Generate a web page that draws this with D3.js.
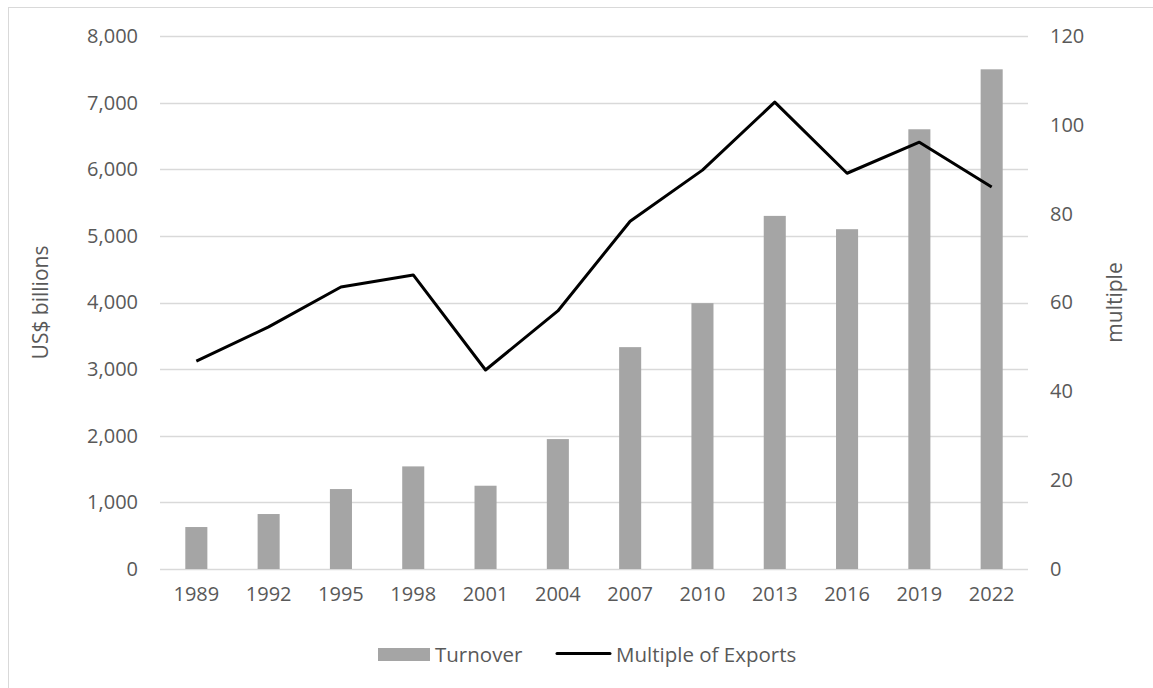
<!DOCTYPE html>
<html>
<head>
<meta charset="utf-8">
<script src="https://cdn.jsdelivr.net/npm/d3@7"></script>
<style>
  body { margin: 0; background: #fff; }
  svg text { font-family: "Open Sans", sans-serif; fill: #595959; }
</style>
</head>
<body>
<div id="chart-container"></div>
<script>
// data
const years = ['1989', '1992', '1995', '1998', '2001', '2004', '2007', '2010', '2013', '2016', '2019', '2022'];
const turnover = [630, 825, 1200, 1540, 1250, 1950, 3330, 3990, 5300, 5100, 6600, 7500];
const multiple = [46.8, 54.5, 63.5, 66.2, 44.8, 58.1, 78.3, 89.8, 105.1, 89.1, 96.1, 86.0];
const leftTicks = [0, 1000, 2000, 3000, 4000, 5000, 6000, 7000, 8000];
const rightTicks = [0, 20, 40, 60, 80, 100, 120];

const w = 1153;
const h = 688;
const plotLeft = 160, plotRight = 1028, plotTop = 36, plotBottom = 569;

const svg = d3.select('#chart-container')
    .append('svg')
    .attr('width', w)
    .attr('height', h);

// chart frame
svg.append('rect')
    .attr('x', 8.5).attr('y', 7.5)
    .attr('width', 1160).attr('height', 700)
    .attr('fill', 'none')
    .attr('stroke', '#d9d9d9');

const xScale = d3.scaleBand()
    .domain(years)
    .range([plotLeft, plotRight])
    .paddingInner(0.695)
    .paddingOuter(0.35);

const yLeft = d3.scaleLinear().domain([0, 8000]).range([plotBottom, plotTop]);
const yRight = d3.scaleLinear().domain([0, 120]).range([plotBottom, plotTop]);

// gridlines
svg.append('g')
    .selectAll('line')
    .data(leftTicks)
    .enter()
    .append('line')
    .attr('x1', plotLeft).attr('x2', plotRight)
    .attr('y1', d => Math.round(yLeft(d)) + 0.5)
    .attr('y2', d => Math.round(yLeft(d)) + 0.5)
    .attr('stroke', '#d9d9d9')
    .attr('stroke-width', 1.3);

// bars
svg.append('g')
    .selectAll('rect')
    .data(turnover)
    .enter()
    .append('rect')
    .attr('x', (d, i) => xScale(years[i]))
    .attr('y', d => yLeft(d))
    .attr('width', xScale.bandwidth())
    .attr('height', d => plotBottom - yLeft(d))
    .attr('fill', '#a5a5a5');

// line
const line = d3.line()
    .x((d, i) => xScale(years[i]) + xScale.bandwidth() / 2)
    .y(d => yRight(d));

svg.append('path')
    .datum(multiple)
    .attr('d', line)
    .attr('fill', 'none')
    .attr('stroke', '#000')
    .attr('stroke-width', 3)
    .attr('stroke-linejoin', 'round');

// axes (Excel style: labels only)
const fmt = d3.format(',');
const yAxisL = d3.axisLeft(yLeft).tickValues(leftTicks).tickFormat(fmt).tickSize(0).tickPadding(22);
const yAxisR = d3.axisRight(yRight).tickValues(rightTicks).tickSize(0).tickPadding(22);
const xAxis = d3.axisBottom(xScale).tickSize(0).tickPadding(18);

const gl = svg.append('g').attr('id', 'y-axis').attr('transform', 'translate(' + plotLeft + ',0)').call(yAxisL);
const gr = svg.append('g').attr('id', 'y2-axis').attr('transform', 'translate(' + plotRight + ',0)').call(yAxisR);
const gx = svg.append('g').attr('id', 'x-axis').attr('transform', 'translate(0,' + plotBottom + ')').call(xAxis);

[gl, gr, gx].forEach(g => {
    g.select('.domain').remove();
    g.selectAll('text')
        .attr('font-family', '"Open Sans", sans-serif')
        .attr('font-size', 20)
        .attr('fill', '#595959');
});

// axis titles
svg.append('text')
    .attr('transform', 'translate(48,' + ((plotTop + plotBottom) / 2) + ') rotate(-90)')
    .attr('text-anchor', 'middle')
    .attr('font-size', 21)
    .text('US$ billions');

svg.append('text')
    .attr('transform', 'translate(1122,' + ((plotTop + plotBottom) / 2) + ') rotate(-90)')
    .attr('text-anchor', 'middle')
    .attr('font-size', 21)
    .text('multiple');

// legend
const legend = svg.append('g');
legend.append('rect')
    .attr('x', 378).attr('y', 648)
    .attr('width', 52).attr('height', 13)
    .attr('fill', '#a5a5a5');
legend.append('text')
    .attr('x', 435).attr('y', 662)
    .attr('font-size', 20.5)
    .text('Turnover');
legend.append('line')
    .attr('x1', 557).attr('x2', 610)
    .attr('y1', 653.5).attr('y2', 653.5)
    .attr('stroke', '#000')
    .attr('stroke-width', 3)
    .attr('stroke-linecap', 'round');
legend.append('text')
    .attr('x', 616).attr('y', 662)
    .attr('font-size', 20.5)
    .text('Multiple of Exports');
</script>
</body>
</html>
